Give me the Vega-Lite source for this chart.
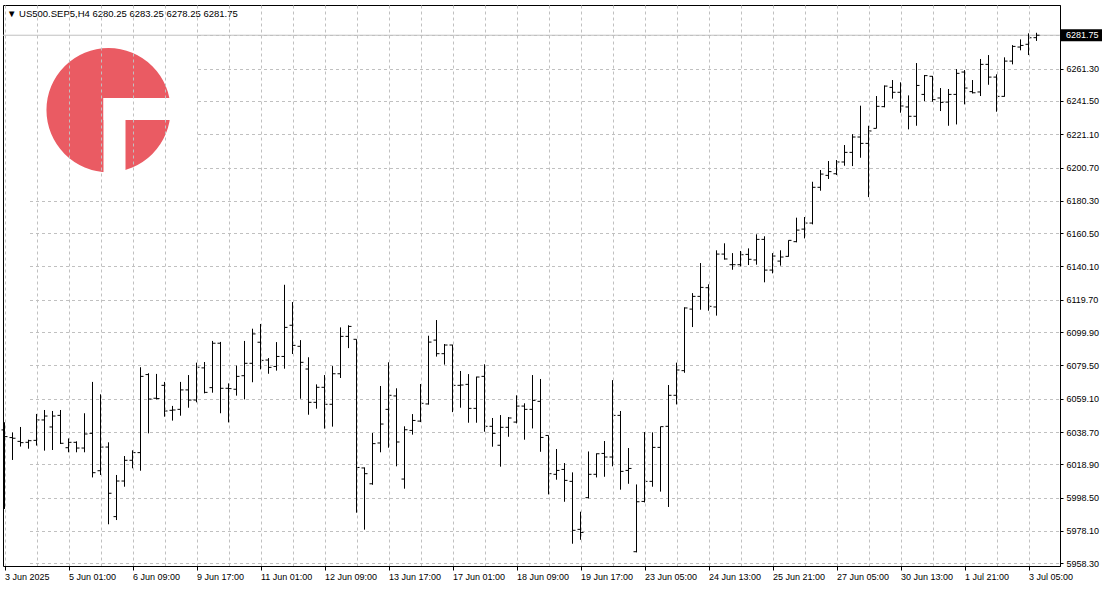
{
  "$schema": "https://vega.github.io/schema/vega-lite/v6.json",
  "width": 1057,
  "height": 561,
  "autosize": {"type": "none"},
  "padding": {"left": 3, "top": 5, "right": 47, "bottom": 26},
  "background": "white",
  "title": {"text": "▼ US500.SEP5,H4   6280.25 6283.25 6278.25 6281.75", "anchor": "start", "frame": "group", "orient": "top", "offset": -21, "dx": 4, "font": "Liberation Sans", "fontSize": 9.5, "fontWeight": "normal", "color": "black", "baseline": "alphabetic"},
  "config": {
    "view": {"stroke": "black", "strokeWidth": 1},
    "axis": {"labelFont": "Liberation Sans", "labelFontSize": 9, "labelColor": "black", "domainColor": "black", "tickColor": "black", "gridColor": "#c0c0c0", "gridDash": [3, 3], "gridWidth": 1, "title": null}
  },
  "data": {"values": [
    {"t":"2025-06-03T17:00","o":6040.0,"h":6044.7,"l":5991.6,"c":6035.9},
    {"t":"2025-06-03T21:00","o":6035.3,"h":6038.5,"l":6021.6,"c":6034.9},
    {"t":"2025-06-04T01:00","o":6033.0,"h":6041.8,"l":6029.8,"c":6032.2},
    {"t":"2025-06-04T05:00","o":6032.4,"h":6034.0,"l":6028.5,"c":6033.4},
    {"t":"2025-06-04T09:00","o":6033.6,"h":6049.8,"l":6030.4,"c":6046.1},
    {"t":"2025-06-04T13:00","o":6046.1,"h":6052.2,"l":6027.3,"c":6048.5},
    {"t":"2025-06-04T17:00","o":6041.8,"h":6051.6,"l":6027.7,"c":6048.5},
    {"t":"2025-06-04T21:00","o":6048.9,"h":6052.2,"l":6031.4,"c":6031.8},
    {"t":"2025-06-05T01:00","o":6029.1,"h":6034.8,"l":6026.3,"c":6032.4},
    {"t":"2025-06-05T05:00","o":6032.4,"h":6033.0,"l":6026.3,"c":6028.9},
    {"t":"2025-06-05T09:00","o":6028.9,"h":6050.2,"l":6026.3,"c":6037.5},
    {"t":"2025-06-05T13:00","o":6037.9,"h":6069.4,"l":6010.9,"c":6013.8},
    {"t":"2025-06-05T17:00","o":6015.0,"h":6061.8,"l":6012.4,"c":6029.5},
    {"t":"2025-06-05T21:00","o":6029.5,"h":6032.4,"l":5982.2,"c":6001.2},
    {"t":"2025-06-06T01:00","o":5986.9,"h":6012.4,"l":5984.8,"c":6008.7},
    {"t":"2025-06-06T05:00","o":6008.7,"h":6024.0,"l":6005.2,"c":6021.4},
    {"t":"2025-06-06T09:00","o":6021.4,"h":6027.5,"l":6016.5,"c":6026.1},
    {"t":"2025-06-06T13:00","o":6026.1,"h":6078.4,"l":6015.0,"c":6072.8},
    {"t":"2025-06-06T17:00","o":6073.9,"h":6074.7,"l":6037.9,"c":6058.9},
    {"t":"2025-06-06T21:00","o":6059.4,"h":6074.3,"l":6058.7,"c":6059.2},
    {"t":"2025-06-09T01:00","o":6067.3,"h":6069.4,"l":6048.1,"c":6051.6},
    {"t":"2025-06-09T05:00","o":6052.0,"h":6054.7,"l":6045.7,"c":6052.2},
    {"t":"2025-06-09T09:00","o":6052.6,"h":6069.4,"l":6048.7,"c":6064.5},
    {"t":"2025-06-09T13:00","o":6064.5,"h":6073.6,"l":6053.6,"c":6058.3},
    {"t":"2025-06-09T17:00","o":6058.3,"h":6081.2,"l":6056.9,"c":6078.4},
    {"t":"2025-06-09T21:00","o":6078.0,"h":6081.6,"l":6062.4,"c":6063.0},
    {"t":"2025-06-10T01:00","o":6065.9,"h":6094.5,"l":6062.8,"c":6093.1},
    {"t":"2025-06-10T05:00","o":6093.1,"h":6093.9,"l":6050.2,"c":6065.5},
    {"t":"2025-06-10T09:00","o":6065.5,"h":6068.5,"l":6044.6,"c":6065.3},
    {"t":"2025-06-10T13:00","o":6064.9,"h":6079.4,"l":6061.0,"c":6072.8},
    {"t":"2025-06-10T17:00","o":6073.2,"h":6094.5,"l":6058.7,"c":6080.8},
    {"t":"2025-06-10T21:00","o":6080.8,"h":6102.0,"l":6069.2,"c":6098.8},
    {"t":"2025-06-11T01:00","o":6093.7,"h":6104.9,"l":6077.1,"c":6082.6},
    {"t":"2025-06-11T05:00","o":6082.8,"h":6084.0,"l":6074.4,"c":6078.3},
    {"t":"2025-06-11T09:00","o":6078.9,"h":6093.8,"l":6076.3,"c":6085.0},
    {"t":"2025-06-11T13:00","o":6085.0,"h":6128.9,"l":6077.5,"c":6102.8},
    {"t":"2025-06-11T17:00","o":6104.1,"h":6118.3,"l":6086.5,"c":6091.8},
    {"t":"2025-06-11T21:00","o":6091.2,"h":6095.0,"l":6059.1,"c":6081.4},
    {"t":"2025-06-12T01:00","o":6077.3,"h":6084.5,"l":6049.3,"c":6056.9},
    {"t":"2025-06-12T05:00","o":6056.9,"h":6067.9,"l":6053.0,"c":6066.1},
    {"t":"2025-06-12T09:00","o":6066.1,"h":6073.6,"l":6040.8,"c":6055.7},
    {"t":"2025-06-12T13:00","o":6055.7,"h":6079.1,"l":6042.0,"c":6074.4},
    {"t":"2025-06-12T17:00","o":6074.4,"h":6102.8,"l":6071.8,"c":6097.3},
    {"t":"2025-06-12T21:00","o":6097.3,"h":6104.1,"l":6090.1,"c":6103.4},
    {"t":"2025-06-13T01:00","o":6095.5,"h":6095.5,"l":5989.3,"c":6017.0},
    {"t":"2025-06-13T05:00","o":6016.7,"h":6017.0,"l":5978.9,"c":6013.2},
    {"t":"2025-06-13T09:00","o":6007.0,"h":6038.1,"l":6006.4,"c":6031.6},
    {"t":"2025-06-13T13:00","o":6032.0,"h":6066.9,"l":6026.3,"c":6043.6},
    {"t":"2025-06-13T17:00","o":6052.6,"h":6081.4,"l":6029.1,"c":6061.2},
    {"t":"2025-06-13T21:00","o":6060.8,"h":6065.5,"l":6017.7,"c":6032.6},
    {"t":"2025-06-16T01:00","o":6009.9,"h":6042.2,"l":6004.0,"c":6040.1},
    {"t":"2025-06-16T05:00","o":6039.7,"h":6049.7,"l":6037.1,"c":6045.8},
    {"t":"2025-06-16T09:00","o":6045.4,"h":6068.1,"l":6044.8,"c":6056.3},
    {"t":"2025-06-16T13:00","o":6055.9,"h":6097.7,"l":6055.5,"c":6093.8},
    {"t":"2025-06-16T17:00","o":6095.0,"h":6107.3,"l":6084.9,"c":6086.7},
    {"t":"2025-06-16T21:00","o":6086.7,"h":6092.6,"l":6080.0,"c":6092.0},
    {"t":"2025-06-17T01:00","o":6092.0,"h":6092.2,"l":6050.9,"c":6067.3},
    {"t":"2025-06-17T05:00","o":6067.3,"h":6076.1,"l":6053.6,"c":6067.5},
    {"t":"2025-06-17T09:00","o":6067.9,"h":6074.2,"l":6044.4,"c":6053.2},
    {"t":"2025-06-17T13:00","o":6053.2,"h":6072.6,"l":6044.4,"c":6072.4},
    {"t":"2025-06-17T17:00","o":6072.8,"h":6080.2,"l":6038.9,"c":6042.2},
    {"t":"2025-06-17T21:00","o":6042.2,"h":6047.3,"l":6029.7,"c":6037.9},
    {"t":"2025-06-18T01:00","o":6030.6,"h":6049.1,"l":6017.5,"c":6041.6},
    {"t":"2025-06-18T05:00","o":6041.6,"h":6047.9,"l":6035.8,"c":6047.3},
    {"t":"2025-06-18T09:00","o":6044.8,"h":6061.2,"l":6044.0,"c":6054.6},
    {"t":"2025-06-18T13:00","o":6054.6,"h":6056.3,"l":6034.0,"c":6052.6},
    {"t":"2025-06-18T17:00","o":6052.6,"h":6073.6,"l":6040.9,"c":6058.1},
    {"t":"2025-06-18T21:00","o":6057.5,"h":6071.2,"l":6026.6,"c":6035.4},
    {"t":"2025-06-19T01:00","o":6036.6,"h":6036.6,"l":6000.5,"c":6013.2},
    {"t":"2025-06-19T05:00","o":6012.8,"h":6028.3,"l":6009.5,"c":6015.2},
    {"t":"2025-06-19T09:00","o":6015.8,"h":6019.7,"l":5996.0,"c":6009.1},
    {"t":"2025-06-19T13:00","o":6008.5,"h":6014.0,"l":5970.3,"c":5978.5},
    {"t":"2025-06-19T17:00","o":5979.1,"h":5989.9,"l":5972.7,"c":5977.2},
    {"t":"2025-06-20T01:00","o":5998.5,"h":6026.8,"l":5998.1,"c":6012.8},
    {"t":"2025-06-20T05:00","o":6012.8,"h":6025.6,"l":6010.9,"c":6025.4},
    {"t":"2025-06-20T09:00","o":6025.6,"h":6033.2,"l":6011.3,"c":6023.4},
    {"t":"2025-06-20T13:00","o":6023.4,"h":6070.5,"l":6017.7,"c":6048.9},
    {"t":"2025-06-20T17:00","o":6048.9,"h":6051.6,"l":6003.4,"c":6014.6},
    {"t":"2025-06-20T21:00","o":6015.2,"h":6028.9,"l":6007.0,"c":6016.4},
    {"t":"2025-06-23T01:00","o":5965.4,"h":6006.6,"l":5965.0,"c":5996.0},
    {"t":"2025-06-23T05:00","o":5996.2,"h":6038.7,"l":5995.6,"c":6008.5},
    {"t":"2025-06-23T09:00","o":6008.5,"h":6038.5,"l":6005.2,"c":6029.3},
    {"t":"2025-06-23T13:00","o":6029.3,"h":6042.0,"l":6002.2,"c":6042.0},
    {"t":"2025-06-23T17:00","o":6042.2,"h":6067.5,"l":5992.8,"c":6061.2},
    {"t":"2025-06-23T21:00","o":6061.2,"h":6081.2,"l":6055.6,"c":6076.7},
    {"t":"2025-06-24T01:00","o":6076.3,"h":6115.1,"l":6075.0,"c":6114.7},
    {"t":"2025-06-24T05:00","o":6114.0,"h":6123.8,"l":6103.0,"c":6121.8},
    {"t":"2025-06-24T09:00","o":6121.8,"h":6142.2,"l":6113.6,"c":6127.3},
    {"t":"2025-06-24T13:00","o":6127.1,"h":6129.2,"l":6113.0,"c":6115.7},
    {"t":"2025-06-24T17:00","o":6115.3,"h":6150.0,"l":6110.0,"c":6147.7},
    {"t":"2025-06-24T21:00","o":6147.7,"h":6154.3,"l":6144.3,"c":6144.7},
    {"t":"2025-06-25T01:00","o":6141.2,"h":6148.3,"l":6138.1,"c":6141.2},
    {"t":"2025-06-25T05:00","o":6141.2,"h":6149.6,"l":6140.2,"c":6147.3},
    {"t":"2025-06-25T09:00","o":6147.5,"h":6151.2,"l":6141.0,"c":6144.5},
    {"t":"2025-06-25T13:00","o":6144.1,"h":6159.8,"l":6141.2,"c":6156.7},
    {"t":"2025-06-25T17:00","o":6156.7,"h":6158.6,"l":6130.4,"c":6137.9},
    {"t":"2025-06-25T21:00","o":6137.9,"h":6148.3,"l":6135.9,"c":6146.5},
    {"t":"2025-06-26T01:00","o":6143.4,"h":6150.0,"l":6140.6,"c":6145.9},
    {"t":"2025-06-26T05:00","o":6146.3,"h":6156.1,"l":6146.1,"c":6156.1},
    {"t":"2025-06-26T09:00","o":6155.3,"h":6170.0,"l":6154.9,"c":6162.4},
    {"t":"2025-06-26T13:00","o":6163.0,"h":6170.4,"l":6157.3,"c":6166.7},
    {"t":"2025-06-26T17:00","o":6166.7,"h":6192.0,"l":6165.9,"c":6188.6},
    {"t":"2025-06-26T21:00","o":6188.6,"h":6199.2,"l":6186.5,"c":6196.7},
    {"t":"2025-06-27T01:00","o":6195.9,"h":6204.7,"l":6193.7,"c":6198.2},
    {"t":"2025-06-27T05:00","o":6196.9,"h":6205.3,"l":6196.1,"c":6204.1},
    {"t":"2025-06-27T09:00","o":6204.1,"h":6214.5,"l":6201.8,"c":6210.0},
    {"t":"2025-06-27T13:00","o":6210.0,"h":6221.2,"l":6201.6,"c":6219.4},
    {"t":"2025-06-27T17:00","o":6219.4,"h":6238.6,"l":6206.7,"c":6215.5},
    {"t":"2025-06-27T21:00","o":6215.5,"h":6226.3,"l":6182.6,"c":6223.1},
    {"t":"2025-06-30T01:00","o":6224.7,"h":6244.5,"l":6224.7,"c":6238.2},
    {"t":"2025-06-30T05:00","o":6238.0,"h":6251.0,"l":6237.6,"c":6250.6},
    {"t":"2025-06-30T09:00","o":6249.8,"h":6254.3,"l":6242.9,"c":6246.8},
    {"t":"2025-06-30T13:00","o":6246.8,"h":6252.9,"l":6234.3,"c":6238.4},
    {"t":"2025-06-30T17:00","o":6237.8,"h":6244.9,"l":6224.1,"c":6232.1},
    {"t":"2025-06-30T21:00","o":6232.1,"h":6264.7,"l":6226.3,"c":6251.0},
    {"t":"2025-07-01T01:00","o":6245.5,"h":6257.4,"l":6241.4,"c":6257.0},
    {"t":"2025-07-01T05:00","o":6256.6,"h":6256.8,"l":6241.0,"c":6242.3},
    {"t":"2025-07-01T09:00","o":6243.3,"h":6249.4,"l":6235.3,"c":6240.6},
    {"t":"2025-07-01T13:00","o":6240.8,"h":6248.8,"l":6226.3,"c":6245.5},
    {"t":"2025-07-01T17:00","o":6245.5,"h":6261.0,"l":6227.1,"c":6258.4},
    {"t":"2025-07-01T21:00","o":6259.2,"h":6260.4,"l":6239.4,"c":6249.4},
    {"t":"2025-07-02T01:00","o":6247.2,"h":6254.3,"l":6246.1,"c":6246.5},
    {"t":"2025-07-02T05:00","o":6247.0,"h":6267.2,"l":6244.5,"c":6263.9},
    {"t":"2025-07-02T09:00","o":6263.9,"h":6269.6,"l":6251.4,"c":6256.1},
    {"t":"2025-07-02T13:00","o":6256.1,"h":6257.8,"l":6234.9,"c":6244.3},
    {"t":"2025-07-02T17:00","o":6244.3,"h":6268.2,"l":6244.1,"c":6265.9},
    {"t":"2025-07-02T21:00","o":6265.9,"h":6275.7,"l":6263.9,"c":6274.9},
    {"t":"2025-07-03T01:00","o":6274.5,"h":6279.2,"l":6272.5,"c":6275.5},
    {"t":"2025-07-03T05:00","o":6276.2,"h":6282.9,"l":6269.6,"c":6280.2},
    {"t":"2025-07-03T09:00","o":6280.25,"h":6283.25,"l":6278.25,"c":6281.75}
  ]},
  "encoding": {
    "x": {"field": "t", "type": "ordinal", "sort": "ascending",
      "scale": {"type": "point", "padding": 0, "range": [1.5, 1033.5], "round": false},
      "axis": {
        "values": ["2025-06-03T17:00","2025-06-04T09:00","2025-06-05T01:00","2025-06-05T17:00","2025-06-06T09:00","2025-06-09T01:00","2025-06-09T17:00","2025-06-10T09:00","2025-06-11T01:00","2025-06-11T17:00","2025-06-12T09:00","2025-06-13T01:00","2025-06-13T17:00","2025-06-16T09:00","2025-06-17T01:00","2025-06-17T17:00","2025-06-18T09:00","2025-06-19T01:00","2025-06-19T17:00","2025-06-20T13:00","2025-06-23T05:00","2025-06-23T21:00","2025-06-24T13:00","2025-06-25T05:00","2025-06-25T21:00","2025-06-26T13:00","2025-06-27T05:00","2025-06-27T21:00","2025-06-30T13:00","2025-07-01T05:00","2025-07-01T21:00","2025-07-02T13:00","2025-07-03T05:00"],
        "labelExpr": "datum.value == '2025-06-03T17:00' ? '3 Jun 2025' : (indexof(['2025-06-05T01:00','2025-06-06T09:00','2025-06-09T17:00','2025-06-11T01:00','2025-06-12T09:00','2025-06-13T17:00','2025-06-17T01:00','2025-06-18T09:00','2025-06-19T17:00','2025-06-23T05:00','2025-06-24T13:00','2025-06-25T21:00','2025-06-27T05:00','2025-06-30T13:00','2025-07-01T21:00','2025-07-03T05:00'], datum.value) >= 0 ? timeFormat(toDate(datum.value), '%-d %b %H:%M') : '')",
        "tickOpacity": {"condition": {"test": "indexof(['2025-06-03T17:00','2025-06-05T01:00','2025-06-06T09:00','2025-06-09T17:00','2025-06-11T01:00','2025-06-12T09:00','2025-06-13T17:00','2025-06-17T01:00','2025-06-18T09:00','2025-06-19T17:00','2025-06-23T05:00','2025-06-24T13:00','2025-06-25T21:00','2025-06-27T05:00','2025-06-30T13:00','2025-07-01T21:00','2025-07-03T05:00'], datum.value) >= 0", "value": 1}, "value": 0},
        "labelAngle": 0, "labelAlign": "left", "labelOverlap": false, "tickSize": 4, "labelPadding": 2, "grid": true, "title": null
      }
    },
    "y": {"field": "l", "type": "quantitative",
      "scale": {"domain": [5956.65, 6300.26], "zero": false, "nice": false},
      "axis": {"orient": "right", "values": [5958.3, 5978.1, 5998.5, 6018.9, 6038.7, 6059.1, 6079.5, 6099.9, 6119.7, 6140.1, 6160.5, 6180.3, 6200.7, 6221.1, 6241.5, 6261.3, 6281.7], "format": ".2f", "tickSize": 3, "labelPadding": 3, "grid": true, "title": null, "labelOverlap": false}
    }
  },
  "layer": [
    {
      "mark": {"type": "rect", "color": "white", "xOffset": 4.5, "x2Offset": -1.5},
      "transform": [{"filter": "datum.t == '2025-07-03T09:00'"}],
      "encoding": {"x": {"datum": "2025-06-04T01:00", "type": "ordinal"}, "x2": {"datum": "2025-06-09T17:00"}, "y": {"datum": 6288.0, "type": "quantitative"}, "y2": {"datum": 6183.9}}
    },
    {
      "mark": {"type": "circle", "size": 15394, "color": "#ea5b63", "opacity": 1},
      "transform": [{"filter": "datum.t == '2025-07-03T09:00'"}],
      "encoding": {"x": {"datum": "2025-06-05T21:00", "type": "ordinal"}, "y": {"datum": 6235.9, "type": "quantitative"}}
    },
    {
      "mark": {"type": "rect", "color": "white", "xOffset": 3, "x2Offset": 2},
      "transform": [{"filter": "datum.t == '2025-07-03T09:00'"}],
      "encoding": {"x": {"datum": "2025-06-05T17:00", "type": "ordinal"}, "x2": {"datum": "2025-06-09T09:00"}, "y": {"datum": 6243.3, "type": "quantitative"}, "y2": {"datum": 6229.8}}
    },
    {
      "mark": {"type": "rect", "color": "white", "xOffset": 3, "x2Offset": 1},
      "transform": [{"filter": "datum.t == '2025-07-03T09:00'"}],
      "encoding": {"x": {"datum": "2025-06-05T17:00", "type": "ordinal"}, "x2": {"datum": "2025-06-06T05:00"}, "y": {"datum": 6243.3, "type": "quantitative"}, "y2": {"datum": 6191.0}}
    },
    {
      "mark": {"type": "rule", "color": "#c0c0c0", "strokeWidth": 1},
      "transform": [{"filter": "datum.t == '2025-07-03T09:00'"}],
      "encoding": {"x": null, "y": {"field": "c", "type": "quantitative"}}
    },
    {
      "mark": {"type": "rule", "color": "black", "strokeWidth": 1},
      "encoding": {"y": {"field": "l", "type": "quantitative"}, "y2": {"field": "h"}}
    },
    {
      "mark": {"type": "rule", "color": "black", "strokeWidth": 1, "xOffset": -3},
      "encoding": {"x2": {"field": "t"}, "y": {"field": "o", "type": "quantitative"}}
    },
    {
      "mark": {"type": "rule", "color": "black", "strokeWidth": 1, "x2Offset": 3},
      "encoding": {"x2": {"field": "t"}, "y": {"field": "c", "type": "quantitative"}}
    },
    {
      "mark": {"type": "rect", "color": "black", "xOffset": 1, "x2Offset": 42, "yOffset": -6, "y2Offset": 6},
      "transform": [{"filter": "datum.t == '2025-07-03T09:00'"}],
      "encoding": {"x": {"value": "width"}, "x2": {"value": "width"}, "y": {"field": "c", "type": "quantitative"}, "y2": {"field": "c"}}
    },
    {
      "mark": {"type": "text", "color": "white", "align": "left", "baseline": "middle", "xOffset": 6, "font": "Liberation Sans", "fontSize": 9},
      "transform": [{"filter": "datum.t == '2025-07-03T09:00'"}],
      "encoding": {"x": {"value": "width"}, "y": {"field": "c", "type": "quantitative"}, "text": {"field": "c", "type": "quantitative", "format": ".2f"}}
    }
  ]
}
